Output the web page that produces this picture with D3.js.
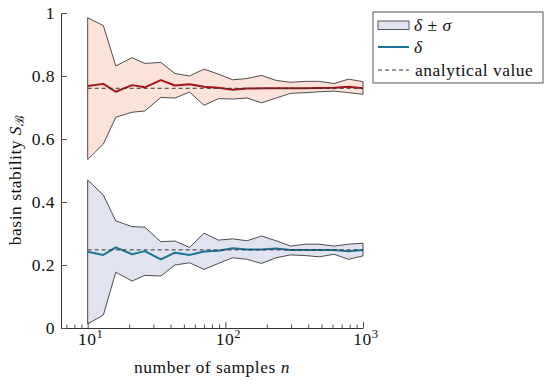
<!DOCTYPE html>
<html><head><meta charset="utf-8">
<script src="https://cdn.jsdelivr.net/npm/d3@7"></script>
<style>
body{margin:0;background:#fff;}
svg text{font-family:"Liberation Serif","DejaVu Serif","Noto Serif","Times New Roman",serif !important;letter-spacing:0.5px;}
</style></head>
<body><svg id="c" width="550" height="380"></svg>
<script>
// ---- data ----
const nSamples = [10, 13, 16, 21, 26, 34, 43, 55, 70, 89, 113, 144, 183, 234, 298, 379, 483, 616, 785, 1000];
const upperMean = [0.768, 0.775, 0.750, 0.771, 0.764, 0.787, 0.770, 0.774, 0.766, 0.763, 0.756, 0.760, 0.761, 0.761, 0.761, 0.761, 0.762, 0.763, 0.766, 0.761];
const upperLow  = [0.535, 0.584, 0.669, 0.685, 0.689, 0.732, 0.730, 0.749, 0.707, 0.728, 0.727, 0.730, 0.715, 0.730, 0.745, 0.747, 0.750, 0.752, 0.747, 0.742];
const upperHigh = [0.985, 0.960, 0.832, 0.858, 0.840, 0.843, 0.808, 0.800, 0.822, 0.806, 0.788, 0.792, 0.802, 0.786, 0.780, 0.783, 0.783, 0.776, 0.790, 0.782];
const lowerMean = [0.242, 0.232, 0.256, 0.234, 0.244, 0.218, 0.239, 0.232, 0.243, 0.245, 0.253, 0.249, 0.249, 0.252, 0.248, 0.248, 0.248, 0.248, 0.244, 0.248];
const lowerLow  = [0.013, 0.041, 0.177, 0.149, 0.167, 0.165, 0.200, 0.207, 0.186, 0.205, 0.223, 0.218, 0.205, 0.223, 0.232, 0.230, 0.226, 0.234, 0.218, 0.229];
const lowerHigh = [0.470, 0.422, 0.340, 0.322, 0.320, 0.274, 0.276, 0.256, 0.301, 0.279, 0.283, 0.277, 0.292, 0.277, 0.260, 0.266, 0.266, 0.260, 0.266, 0.269];
const analytical = [0.761, 0.248];
const xMajor = [10, 100, 1000];
const xMajorExp = ["1", "2", "3"];
const xMinor = [7, 8, 9, 20, 30, 40, 50, 60, 70, 80, 90, 200, 300, 400, 500, 600, 700, 800, 900];
const yTicks = [0, 0.2, 0.4, 0.6, 0.8, 1];
const yTickLabels = ["0", "0.2", "0.4", "0.6", "0.8", "1"];

// ---- chart ----
const svg = d3.select("#c");
const x = d3.scaleLog().domain([6.4, 1000]).range([61, 363]);
const y = d3.scaleLinear().domain([0, 1]).range([328, 13]);
const FS = 17.5;

const bands = [
  {lo: upperLow, hi: upperHigh, mean: upperMean, fill: "#fce3d9", line: "#a5161b", a: analytical[0]},
  {lo: lowerLow, hi: lowerHigh, mean: lowerMean, fill: "#e2e3f1", line: "#1b7595", a: analytical[1]}
];
const area = d3.area().x((d,i)=>x(nSamples[i])).y0(d=>y(d[0])).y1(d=>y(d[1]));
const line = d3.line().x((d,i)=>x(nSamples[i])).y(d=>y(d));

bands.forEach(b=>{
  const pts = b.lo.map((v,i)=>[v, b.hi[i]]);
  svg.append("path").attr("d", area(pts) )
    .attr("fill", b.fill).attr("stroke", "#222").attr("stroke-width", 0.8).attr("stroke-linejoin","round");
});
bands.forEach(b=>{
  svg.append("path").attr("d", line(b.mean)).attr("fill","none")
    .attr("stroke", b.line).attr("stroke-width", 2).attr("stroke-linejoin","round");
  svg.append("line").attr("x1", x(nSamples[0])).attr("x2", x(nSamples[nSamples.length-1]))
    .attr("y1", y(b.a)).attr("y2", y(b.a))
    .attr("stroke", "#333").attr("stroke-width", 1).attr("stroke-dasharray", "4,3");
});

// axes
const gx = svg.append("g").attr("transform", "translate(0,328)");
gx.call(d3.axisBottom(x).tickValues(xMajor).tickSizeInner(-6).tickSizeOuter(0).tickFormat(""));
const gxm = svg.append("g").attr("transform", "translate(0,328)");
gxm.call(d3.axisBottom(x).tickValues(xMinor).tickSizeInner(-3.5).tickSizeOuter(0).tickFormat(""));
gxm.select(".domain").remove();
[gx, gxm].forEach(g=>{
  g.select(".domain").attr("stroke","#333");
  g.selectAll(".tick line").attr("stroke","#555");
});
xMajor.forEach((v,i)=>{
  const t = svg.append("text").attr("x", x(v) + 3).attr("y", 345)
    .attr("text-anchor","middle").attr("font-size", FS).attr("fill","#111");
  t.append("tspan").text("10");
  t.append("tspan").attr("dy", -7).attr("font-size", FS*0.72).text(xMajorExp[i]);
});

const gy = svg.append("g").attr("transform", "translate(61,0)");
gy.call(d3.axisLeft(y).tickValues(yTicks).tickSizeInner(-6).tickSizeOuter(0).tickPadding(6)
  .tickFormat((d,i)=>yTickLabels[i]));
gy.select(".domain").attr("stroke","#333");
gy.selectAll(".tick line").attr("stroke","#555");
gy.selectAll(".tick text").attr("font-size", FS).attr("fill","#111");

// axis labels
const xl = svg.append("text").attr("x", 212).attr("y", 373).attr("text-anchor","middle")
  .attr("font-size", FS).attr("fill","#111");
xl.append("tspan").text("number of samples ");
xl.append("tspan").attr("font-style","italic").text("n");

const yl = svg.append("text").attr("transform","translate(21,180) rotate(-90)")
  .attr("text-anchor","middle").attr("font-size", FS).attr("fill","#111");
yl.append("tspan").text("basin stability ");
yl.append("tspan").attr("font-style","italic").text("S");
yl.append("tspan").attr("dy", 3).attr("font-size", FS*0.72).attr("font-style","italic").text("ℬ");

// legend
const lg = svg.append("g");
lg.append("rect").attr("x", 373).attr("y", 12).attr("width", 170).attr("height", 71)
  .attr("fill","#fff").attr("stroke","#555").attr("stroke-width",1);
lg.append("rect").attr("x", 378).attr("y", 21).attr("width", 31).attr("height", 8.5)
  .attr("fill", bands[1].fill).attr("stroke","#333").attr("stroke-width",0.8);
lg.append("line").attr("x1",378).attr("x2",409).attr("y1",47).attr("y2",47)
  .attr("stroke", bands[1].line).attr("stroke-width",2);
lg.append("line").attr("x1",378).attr("x2",409).attr("y1",70).attr("y2",70)
  .attr("stroke","#333").attr("stroke-width",1).attr("stroke-dasharray","4,3");
const lt1 = lg.append("text").attr("x",414).attr("y",31).attr("font-size",FS).attr("fill","#111");
lt1.append("tspan").attr("font-style","italic").text("δ");
lt1.append("tspan").text(" ± ");
lt1.append("tspan").attr("font-style","italic").text("σ");
lg.append("text").attr("x",414).attr("y",53).attr("font-size",FS).attr("font-style","italic").attr("fill","#111").text("δ");
lg.append("text").attr("x",415).attr("y",76).attr("font-size",FS).attr("fill","#111").text("analytical value");
</script></body></html>
